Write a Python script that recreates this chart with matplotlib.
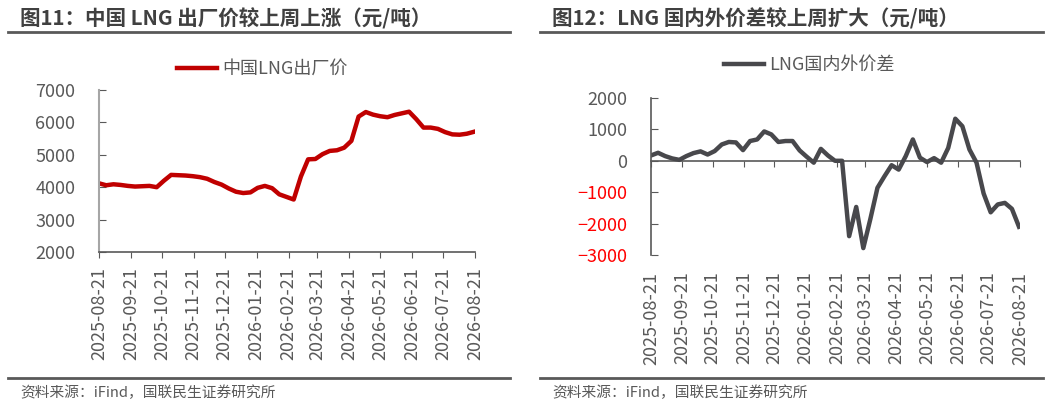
import pandas as pd
import matplotlib.pyplot as plt
import matplotlib.dates as mdates
from matplotlib.lines import Line2D

plt.rcParams['font.family'] = ['Noto Sans CJK SC', 'DejaVu Sans']

# weekly observations
dates = pd.date_range('2025-08-21', periods=53, freq='7D')

lng_price = [4120, 4060, 4090, 4070, 4040, 4020, 4030, 4040, 4000, 4200,
             4380, 4370, 4360, 4340, 4310, 4260, 4160, 4080, 3960, 3860,
             3820, 3840, 3980, 4040, 3970, 3780, 3700, 3620, 4330, 4860,
             4870, 5020, 5120, 5140, 5220, 5430, 6180, 6320, 6240, 6190,
             6160, 6230, 6280, 6330, 6100, 5840, 5840, 5800, 5700, 5630,
             5620, 5650, 5710]

lng_spread = [170, 255, 150, 75, 30, 150, 245, 300, 200, 310,
              520, 600, 585, 340, 630, 680, 935, 840, 600, 630,
              630, 330, 130, -60, 380, 170, 0, 0, -2400, -1470,
              -2780, -1850, -860, -490, -140, -280, 150, 680, 100, -40,
              85, -60, 410, 1340, 1100, 360, -60, -1040, -1640, -1390,
              -1340, -1530, -2100]

tick_dates = pd.date_range('2025-08-21', periods=13, freq=pd.DateOffset(months=1))

W, H = 1050, 405
fig = plt.figure(figsize=(W / 100, H / 100), dpi=100)

def fx(px):
    return px / W

def fy(py):
    return 1 - py / H

dark = '#595959'
txt = '#404040'

# titles, rules, source notes
for x0, x1, tx, title in [(8, 510, 20, '图11：中国 LNG 出厂价较上周上涨（元/吨）'),
                          (540, 1043, 552, '图12：LNG 国内外价差较上周扩大（元/吨）')]:
    fig.text(fx(tx), fy(19), title, fontsize=14.8, fontweight='bold', color=txt,
             ha='left', va='center')
    fig.add_artist(Line2D([fx(x0), fx(x1)], [fy(32), fy(32)], color=dark, lw=2))
    fig.add_artist(Line2D([fx(x0), fx(x1)], [fy(378), fy(378)], color=dark, lw=2))
    fig.text(fx(tx), fy(393), '资料来源：iFind，国联民生证券研究所', fontsize=10.6,
             color='#595959', ha='left', va='center')

leg_kw = dict(loc='center left', frameon=False, fontsize=13, handlelength=2.2,
              handletextpad=0.3, borderpad=0, borderaxespad=0,
              labelcolor='#595959', bbox_transform=fig.transFigure)

# left chart
ax1 = fig.add_axes([fx(99), fy(252), fx(475 - 99), (252 - 90) / H])
ax1.plot(dates, lng_price, color='#C00000', lw=3.2, label='中国LNG出厂价')
ax1.set_ylim(2000, 7000)
ax1.set_yticks(range(2000, 7001, 1000))
ax1.set_xlim(tick_dates[0], tick_dates[-1])
ax1.set_xticks(tick_dates)
ax1.xaxis.set_major_formatter(mdates.DateFormatter('%Y-%m-%d'))
for s in ['top', 'right']:
    ax1.spines[s].set_visible(False)
ax1.spines['left'].set_color('#A6A6A6')
ax1.spines['left'].set_linewidth(1.5)
ax1.spines['bottom'].set_color(dark)
ax1.spines['bottom'].set_linewidth(1.2)
ax1.tick_params(axis='y', direction='in', length=5, color=dark, labelsize=13,
                labelcolor='#595959', pad=17)
ax1.tick_params(axis='x', direction='out', length=4, color=dark, labelsize=13,
                labelcolor='#595959', pad=7, labelrotation=90)
ax1.legend(bbox_to_anchor=(fx(177), fy(69)), **leg_kw)

# right chart
ax2 = fig.add_axes([fx(651), fy(255), fx(1020 - 651), (255 - 98) / H])
ax2.plot(dates, lng_spread, color='#48484C', lw=3.2, label='LNG国内外价差')
ax2.set_ylim(-3000, 2000)
ax2.set_yticks(range(-3000, 2001, 1000))
ax2.set_xlim(tick_dates[0], tick_dates[-1])
ax2.set_xticks(tick_dates)
ax2.xaxis.set_major_formatter(mdates.DateFormatter('%Y-%m-%d'))
for s in ['top', 'right', 'bottom']:
    ax2.spines[s].set_visible(False)
ax2.spines['left'].set_color(dark)
ax2.spines['left'].set_linewidth(1.2)
ax2.tick_params(axis='y', direction='in', length=5, color=dark, labelsize=13,
                labelcolor='#595959', pad=17)
ax2.tick_params(axis='x', length=0, labelsize=13, labelcolor='#595959', pad=12,
                labelrotation=90)
for lab, v in zip(ax2.get_yticklabels(), range(-3000, 2001, 1000)):
    if v < 0:
        lab.set_color('#FF0000')
# zero line with its own ticks
zero_ax = ax2.secondary_xaxis(3 / 5)
zero_ax.set_xticks(tick_dates)
zero_ax.set_xticklabels([])
zero_ax.tick_params(axis='x', direction='in', length=4, color=dark,
                    labeltop=False, labelbottom=False)
for s in zero_ax.spines.values():
    s.set_color(dark)
    s.set_linewidth(1.2)
ax2.legend(bbox_to_anchor=(fx(724), fy(65)), **leg_kw)

fig.savefig('out.png', dpi=100)
